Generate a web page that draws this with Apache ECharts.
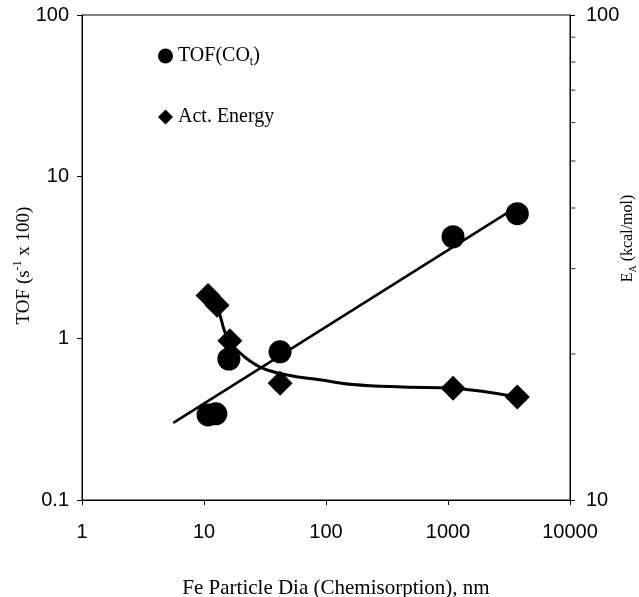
<!DOCTYPE html>
<html>
<head>
<meta charset="utf-8">
<script src="https://cdn.jsdelivr.net/npm/echarts@6/dist/echarts.min.js"></script>
<style>
  html, body { margin: 0; padding: 0; background: #fff; }
  #chart { width: 639px; height: 597px; }
</style>
</head>
<body>
<div id="chart"></div>
<script>
// measured points (particle dia in nm)
var tofX = [10.8, 12.5, 16.0, 42, 1100, 3700];
var tofY = [0.336, 0.341, 0.745, 0.825, 4.25, 5.9];

var energyX = [10.8, 12.8, 16.3, 42, 1100, 3700];
var energyY = [26.4, 25.2, 21.3, 17.4, 17.0, 16.3];

// fitted lines
var fitX = [5.6, 3200];
var fitY = [0.30, 6.1];

var curveX = [10.8, 12.8, 15.4, 19.7, 28.8, 48, 89, 166, 428, 1100, 3700];
var curveY = [26.4, 25.0, 21.7, 20.1, 18.8, 18.1, 17.7, 17.3, 17.1, 17.0, 16.3];

// unlabelled ticks on the right axis
var rightMinorTicks = [20, 30, 40, 50, 60, 70, 80, 90];

function pairs(xs, ys) {
    return xs.map(function (x, i) { return [x, ys[i]]; });
}

function plain(v) {
    return v >= 1 ? String(Math.round(v)) : String(v);
}

var serif = 'Liberation Serif';
var sans = 'Liberation Sans';

var chart = echarts.init(document.getElementById('chart'));

var option = {
    animation: false,
    backgroundColor: '#fff',
    grid: {
        left: 82, right: 69, top: 15, bottom: 97,
        show: true, borderColor: '#000', borderWidth: 1,
        outerBoundsMode: 'none'
    },
    legend: {
        orient: 'vertical',
        left: 153,
        top: 41,
        itemGap: 39,
        itemWidth: 15,
        itemHeight: 15,
        data: [
            {name: 'TOF', icon: 'circle'},
            {name: 'Act. Energy', icon: 'diamond'}
        ],
        formatter: function (name) {
            if (name === 'TOF') return '{a|TOF(CO}{s|t}{a|)}';
            return '{a|' + name + '}';
        },
        textStyle: {
            color: '#000',
            fontFamily: serif,
            fontSize: 20,
            rich: {
                a: {fontFamily: serif, fontSize: 20, lineHeight: 24, color: '#000'},
                s: {fontFamily: serif, fontSize: 12, lineHeight: 12, verticalAlign: 'bottom', color: '#000'}
            }
        }
    },
    xAxis: {
        type: 'log',
        logBase: 10,
        min: 1,
        max: 10000,
        name: 'Fe Particle Dia (Chemisorption), nm',
        nameLocation: 'middle',
        nameGap: 78,
        nameMoveOverlap: false,
        nameTextStyle: {fontFamily: serif, fontSize: 21, color: '#000', padding: [0, 0, 0, 20]},
        axisLine: {lineStyle: {color: '#000', width: 1}},
        axisTick: {inside: false, length: 5, lineStyle: {color: '#000'}},
        axisLabel: {fontFamily: sans, fontSize: 20, color: '#000', margin: 22, formatter: plain},
        splitLine: {show: false}
    },
    yAxis: [
        {
            type: 'log',
            logBase: 10,
            min: 0.1,
            max: 100,
            position: 'left',
            name: '{a|TOF (s}{p|-1}{a| x 100)}',
            nameLocation: 'middle',
            nameRotate: 90,
            nameGap: 46,
            nameMoveOverlap: false,
            nameTextStyle: {
                padding: [0, 16, 0, 0],
                rich: {
                    a: {fontFamily: serif, fontSize: 19, lineHeight: 24, color: '#000'},
                    p: {fontFamily: serif, fontSize: 12, lineHeight: 12, verticalAlign: 'top', color: '#000'}
                }
            },
            axisLine: {show: true, lineStyle: {color: '#000', width: 1}},
            axisTick: {show: true, length: 5, lineStyle: {color: '#000'}},
            axisLabel: {fontFamily: sans, fontSize: 20, color: '#000', margin: 13, formatter: plain},
            splitLine: {show: false}
        },
        {
            type: 'log',
            logBase: 10,
            min: 10,
            max: 100,
            position: 'right',
            name: '{e|E}{s|A}{e| (kcal/mol)}',
            nameLocation: 'middle',
            nameRotate: 90,
            nameGap: 48,
            nameMoveOverlap: false,
            nameTextStyle: {
                padding: [0, 0, 0, 38],
                rich: {
                    e: {fontFamily: serif, fontSize: 16, lineHeight: 20, color: '#000'},
                    s: {fontFamily: serif, fontSize: 10, lineHeight: 10, verticalAlign: 'bottom', color: '#000'}
                }
            },
            axisLine: {show: true, lineStyle: {color: '#000', width: 1}},
            axisTick: {show: true, length: 5, lineStyle: {color: '#000'}},
            axisLabel: {fontFamily: sans, fontSize: 20, color: '#000', margin: 16, formatter: plain},
            splitLine: {show: false}
        }
    ],
    series: [
        {
            name: 'TOF fit',
            type: 'line',
            yAxisIndex: 0,
            data: pairs(fitX, fitY),
            symbol: 'none',
            lineStyle: {color: '#000', width: 2.5},
            silent: true,
            z: 2
        },
        {
            name: 'Energy fit',
            type: 'line',
            yAxisIndex: 1,
            data: pairs(curveX, curveY),
            symbol: 'none',
            smooth: 0.4,
            lineStyle: {color: '#000', width: 3},
            silent: true,
            z: 2
        },
        {
            name: 'TOF',
            type: 'scatter',
            yAxisIndex: 0,
            data: pairs(tofX, tofY),
            symbol: 'circle',
            symbolSize: 23,
            itemStyle: {color: '#000', opacity: 1},
            z: 3
        },
        {
            name: 'Act. Energy',
            type: 'scatter',
            yAxisIndex: 1,
            data: pairs(energyX, energyY),
            symbol: 'diamond',
            symbolSize: 25,
            itemStyle: {color: '#000', opacity: 1},
            z: 3
        },
        {
            name: 'right ticks',
            type: 'scatter',
            yAxisIndex: 1,
            data: rightMinorTicks.map(function (v) { return [10000, v]; }),
            symbol: 'rect',
            symbolSize: [5, 1],
            symbolOffset: [3, 0],
            itemStyle: {color: '#000'},
            clip: false,
            silent: true,
            z: 1
        }
    ]
};

chart.setOption(option);
</script>
</body>
</html>
